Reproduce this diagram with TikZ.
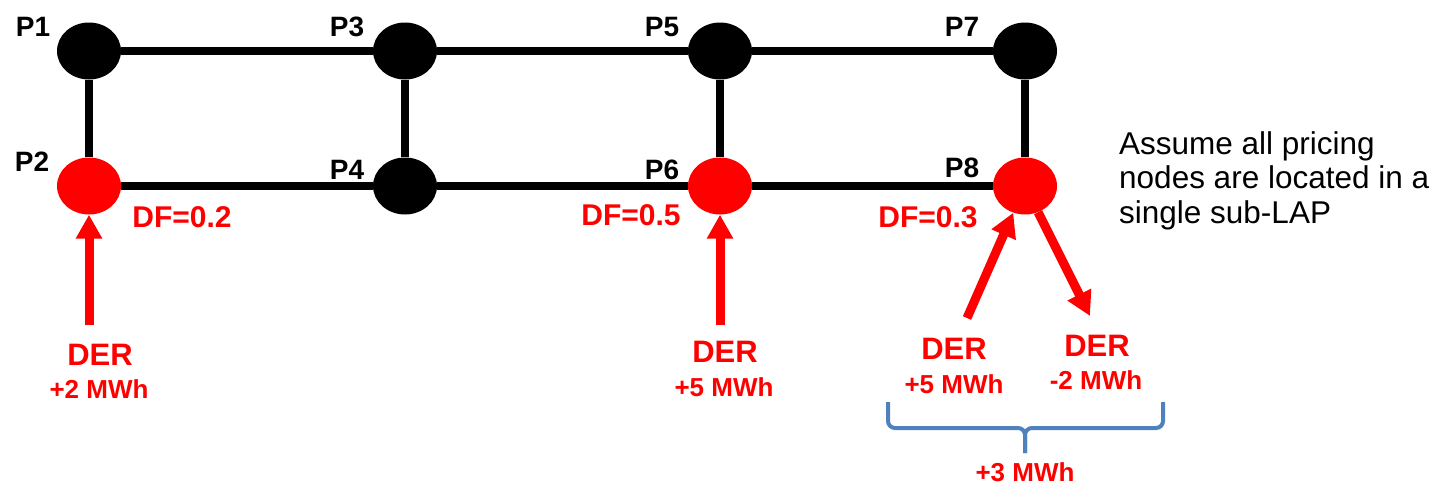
\documentclass[tikz,border=0pt]{standalone}
\usepackage{fontspec}
\setmainfont{Liberation Sans}
\usetikzlibrary{shapes.geometric,arrows.meta}
\definecolor{derred}{RGB}{255,0,0}
\definecolor{braceblue}{RGB}{79,129,189}

\begin{document}
\begin{tikzpicture}[x=1pt,y=-1pt,
  bus/.style={ellipse,minimum width=64pt,minimum height=57pt,inner sep=0pt,fill=black},
  derbus/.style={bus,fill=derred},
  plabel/.style={font=\fontsize{28}{32}\selectfont\bfseries},
  dflabel/.style={font=\fontsize{30}{34}\selectfont\bfseries,text=derred},
  dername/.style={font=\fontsize{31}{35}\selectfont\bfseries,text=derred},
  mwh/.style={font=\fontsize{26}{30}\selectfont\bfseries,text=derred},
  wire/.style={line width=8pt},
  flow/.style={line width=9pt,derred,-{Triangle[width=25pt,length=24pt]}},
  bracket/.style={line width=4pt,braceblue,rounded corners=7pt}]
\useasboundingbox (0,0) rectangle (1437,485);
% pricing nodes
\node[bus] (P1) at (89,51) {};
\node[bus] (P3) at (405,51) {};
\node[bus] (P5) at (720,51) {};
\node[bus] (P7) at (1025,51) {};
\node[derbus] (P2) at (89,186) {};
\node[bus] (P4) at (405,186) {};
\node[derbus] (P6) at (720,186) {};
\node[derbus] (P8) at (1025,186) {};
\node[plabel] (l1) at (33,27) {P1};
\node[plabel] (l3) at (347,27) {P3};
\node[plabel] (l5) at (662,27) {P5};
\node[plabel] (l7) at (962,27) {P7};
\node[plabel] (l2) at (32,162) {P2};
\node[plabel] (l4) at (347,170) {P4};
\node[plabel] (l6) at (662,170) {P6};
\node[plabel] (l8) at (962,168) {P8};
\draw[wire] (P1) -- (P3) -- (P5) -- (P7);
\draw[wire] (P2) -- (P4) -- (P6) -- (P8);
\draw[wire] (P1) -- (P2);
\draw[wire] (P3) -- (P4);
\draw[wire] (P5) -- (P6);
\draw[wire] (P7) -- (P8);
\node[dflabel] (df2) at (182,217) {DF=0.2};
\node[dflabel] (df6) at (631,215) {DF=0.5};
\node[dflabel] (df8) at (928,217) {DF=0.3};
% DERs
\node[dername] (der2) at (100,355) {DER};
\node[mwh] (mw2) at (99,389) {+2 MWh};
\node[dername] (der6) at (725,352) {DER};
\node[mwh] (mw6) at (724,387) {+5 MWh};
\node[dername] (der8a) at (954,349) {DER};
\node[mwh] (mw8a) at (954,384) {+5 MWh};
\node[dername] (der8b) at (1097,346) {DER};
\node[mwh] (mw8b) at (1096,380) {-2 MWh};
\coordinate (in2) at (89,325);
\coordinate (in6) at (720,325);
\coordinate (in8) at (967,318);
\coordinate (out8) at (1090,316);
\draw[flow] (in2) -- (P2);
\draw[flow] (in6) -- (P6);
\draw[flow] (in8) -- (P8);
\draw[flow] (P8) -- (out8);
% net injection
\coordinate (bl) at (888,402);
\coordinate (br) at (1163,402);
\coordinate (bm) at (1025,428);
\coordinate (bt) at (1025,453);
\draw[bracket] (bl) |- (bm) -- (bt);
\draw[bracket] (br) |- (bm) -- (bt);
\node[mwh] (mw3) at (1025,472) {+3 MWh};
\node[font=\fontsize{31.5}{34.5}\selectfont,align=left,anchor=north west,inner sep=0pt] (note) at (1119,131)
  {Assume all pricing\\nodes are located in a\\single sub-LAP};
\end{tikzpicture}
\end{document}
